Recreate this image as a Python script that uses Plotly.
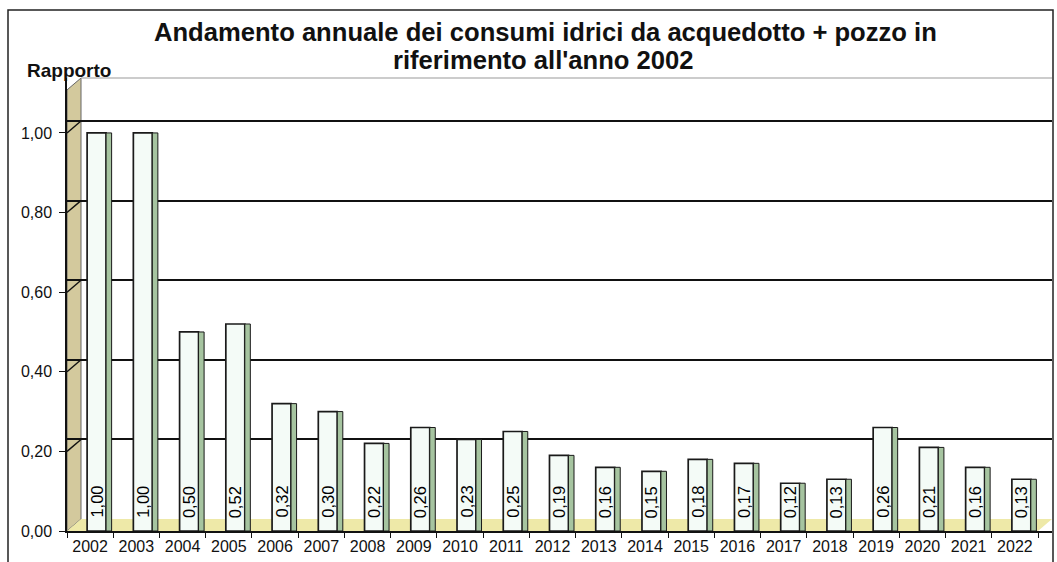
import plotly.graph_objects as go

years = [str(y) for y in range(2002, 2023)]
ratios = [1.00, 1.00, 0.50, 0.52, 0.32, 0.30, 0.22, 0.26, 0.23, 0.25, 0.19,
          0.16, 0.15, 0.18, 0.17, 0.12, 0.13, 0.26, 0.21, 0.16, 0.13]
y_ticks = [0.0, 0.2, 0.4, 0.6, 0.8, 1.0]
grid_ticks = [0.2, 0.4, 0.6, 0.8, 1.0]

title_line1 = "Andamento annuale dei consumi idrici da acquedotto + pozzo in"
title_line2 = "riferimento all'anno 2002"
y_title = "Rapporto"

FONT = "Liberation Sans, Arial, sans-serif"

# pixel layout (page origin top-left)
L, R, T, B = 67, 1052, 78, 531
W, H = R - L, B - T
Y_MAX = 1.138
DEPTH = 0.03            # back-plane offset in value units
DEPTH_X = 14 / W        # back-plane offset in paper units
X_FRONT_END = (1038 - L) / W
X_RANGE = [-0.5, 20.5 + 14 / 46.24]

FACE_OFFSET, FACE_WIDTH = -0.065, 0.41

def px_x(p):
    return (p - L) / W

def px_y(p):
    return (B - p) / H

fig = go.Figure()

# front faces of the bars
fig.add_trace(go.Bar(
    x=years, y=ratios, width=FACE_WIDTH, offset=FACE_OFFSET,
    marker=dict(color="#f4fbf7", line=dict(color="#1a1a1a", width=1.7)),
    hoverinfo="x+y", showlegend=False,
))
# side faces (3D look)
fig.add_trace(go.Bar(
    x=years, y=ratios, width=0.12, offset=0.345,
    marker=dict(color="#a6c4a0", line=dict(color="#1a1a1a", width=1)),
    hoverinfo="skip", showlegend=False,
))
# invisible trace carrying the back-plane grid axis
fig.add_trace(go.Scatter(
    x=years, y=ratios, yaxis="y2", mode="markers",
    marker=dict(opacity=0), hoverinfo="skip", showlegend=False,
))

shapes = [
    # left wall
    dict(type="path", xref="paper", yref="y", layer="between",
         path=f"M 0 0 L {DEPTH_X} {DEPTH} L {DEPTH_X} {Y_MAX} L 0 {Y_MAX - DEPTH} Z",
         fillcolor="#d3c99d", line=dict(color="#666", width=1)),
    # floor
    dict(type="path", xref="paper", yref="y", layer="between",
         path=f"M 0 0 L {X_FRONT_END} 0 L 1 {DEPTH} L {DEPTH_X} {DEPTH} Z",
         fillcolor="#eee9a8", line=dict(width=0)),
    # top edge of back wall
    dict(type="line", xref="paper", yref="paper", x0=DEPTH_X, x1=1,
         y0=1, y1=1, line=dict(color="#999", width=1)),
    # outer border of the chart
    dict(type="rect", xref="paper", yref="paper",
         x0=px_x(8), x1=px_x(1053), y0=px_y(575), y1=px_y(10),
         line=dict(color="#222", width=1.5), fillcolor="rgba(0,0,0,0)"),
]
# grid connectors running across the side wall
for v in grid_ticks:
    shapes.append(dict(type="line", xref="paper", yref="y", layer="between",
                       x0=0, y0=v, x1=DEPTH_X, y1=v + DEPTH,
                       line=dict(color="#111", width=1.4)))

# value labels, rotated, at the foot of each bar (category index positions)
label_x_offset = FACE_OFFSET + FACE_WIDTH / 2
annotations = [
    dict(x=i + label_x_offset, y=0, xref="x", yref="y",
         text=f"{v:.2f}".replace(".", ","),
         textangle=-90, showarrow=False, xanchor="center", yanchor="bottom",
         yshift=11, font=dict(family=FONT, size=16.5, color="#000"))
    for i, v in enumerate(ratios)
]
annotations += [
    dict(text="<b>" + title_line1 + "</b>", xref="paper", yref="paper",
         x=px_x(545), y=px_y(32), xanchor="center", yanchor="middle",
         showarrow=False, font=dict(family=FONT, size=25.6, color="#111")),
    dict(text="<b>" + title_line2 + "</b>", xref="paper", yref="paper",
         x=px_x(543), y=px_y(60), xanchor="center", yanchor="middle",
         showarrow=False, font=dict(family=FONT, size=25.6, color="#111")),
    dict(text="<b>" + y_title + "</b>", xref="paper", yref="paper",
         x=px_x(69), y=px_y(71), xanchor="center", yanchor="middle",
         showarrow=False, font=dict(family=FONT, size=19, color="#111")),
]

fig.update_layout(
    width=1057, height=562,
    margin=dict(l=L, r=1057 - R, t=T, b=562 - B),
    paper_bgcolor="white", plot_bgcolor="white",
    barmode="overlay", separators=",.",
    font=dict(family=FONT, color="#111"),
    shapes=shapes,
    annotations=annotations,
    xaxis=dict(type="category", range=X_RANGE, showline=True,
               linecolor="#111", linewidth=1.5, ticks="outside",
               tickson="boundaries", ticklen=5, tickcolor="#111",
               tickfont=dict(size=16), showgrid=False),
    yaxis=dict(range=[0, Y_MAX], tickvals=y_ticks, tickformat=".2f",
               showline=True, linecolor="#111", linewidth=1.5,
               ticks="outside", ticklen=6, tickcolor="#111",
               ticklabelstandoff=4,
               tickfont=dict(size=16), showgrid=False, zeroline=False),
    yaxis2=dict(overlaying="y", range=[-DEPTH, Y_MAX - DEPTH],
                tickvals=grid_ticks, showticklabels=False, showgrid=True,
                gridcolor="#111", gridwidth=1.6, zeroline=False,
                showline=False),
)

fig.write_html("out.html", config={"displayModeBar": False},
               post_script="document.body.style.margin='0px';")
